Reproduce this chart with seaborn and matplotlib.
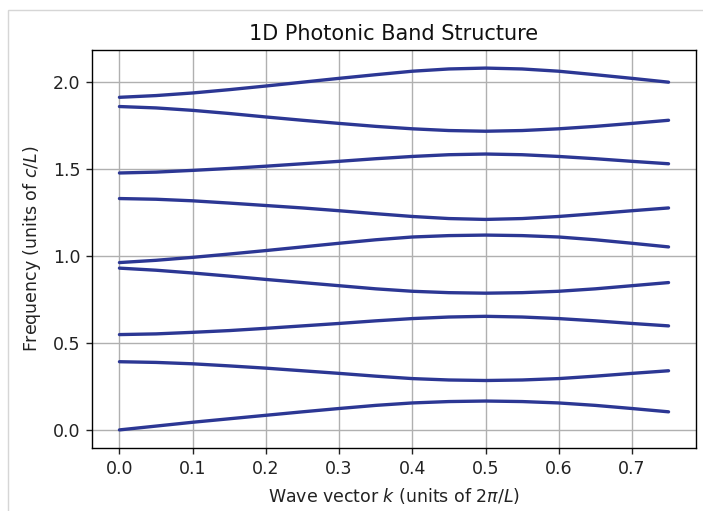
import numpy as np
import pandas as pd
import matplotlib
matplotlib.use("Agg")
import matplotlib.pyplot as plt
import seaborn as sns
from matplotlib.patches import Rectangle

# Wave vector samples (units of 2*pi/L)
k_values = [0.00, 0.05, 0.10, 0.15, 0.20, 0.25, 0.30, 0.35, 0.40, 0.45, 0.50,
            0.55, 0.60, 0.65, 0.70, 0.75]

# Frequencies (units of c/L), one list per band
band1 = [0.000, 0.022, 0.044, 0.064, 0.084, 0.104, 0.123, 0.141, 0.155, 0.163, 0.166,
         0.163, 0.155, 0.141, 0.123, 0.104]
band2 = [0.392, 0.388, 0.380, 0.368, 0.355, 0.340, 0.325, 0.309, 0.295, 0.287, 0.284,
         0.287, 0.295, 0.309, 0.325, 0.340]
band3 = [0.548, 0.552, 0.561, 0.571, 0.584, 0.598, 0.612, 0.627, 0.640, 0.649, 0.653,
         0.649, 0.640, 0.627, 0.612, 0.598]
band4 = [0.930, 0.918, 0.902, 0.884, 0.865, 0.847, 0.829, 0.811, 0.797, 0.789, 0.786,
         0.789, 0.797, 0.811, 0.829, 0.847]
band5 = [0.962, 0.975, 0.992, 1.011, 1.031, 1.052, 1.073, 1.093, 1.109, 1.117, 1.120,
         1.117, 1.109, 1.093, 1.073, 1.052]
band6 = [1.330, 1.326, 1.317, 1.304, 1.290, 1.276, 1.260, 1.243, 1.227, 1.215, 1.210,
         1.215, 1.227, 1.243, 1.260, 1.276]
band7 = [1.477, 1.482, 1.492, 1.503, 1.516, 1.530, 1.544, 1.559, 1.572, 1.582, 1.586,
         1.582, 1.572, 1.559, 1.544, 1.530]
band8 = [1.859, 1.851, 1.837, 1.819, 1.799, 1.780, 1.762, 1.745, 1.731, 1.721, 1.717,
         1.721, 1.731, 1.745, 1.762, 1.780]
band9 = [1.912, 1.922, 1.937, 1.956, 1.977, 1.999, 2.021, 2.042, 2.062, 2.075, 2.080,
         2.075, 2.062, 2.042, 2.021, 1.999]

bands = [band1, band2, band3, band4, band5, band6, band7, band8, band9]

x_ticks = [0.0, 0.1, 0.2, 0.3, 0.4, 0.5, 0.6, 0.7]
y_ticks = [0.0, 0.5, 1.0, 1.5, 2.0]

rows = []
for i, b in enumerate(bands):
    for kv, fv in zip(k_values, b):
        rows.append({"k": kv, "freq": fv, "band": i})
df = pd.DataFrame(rows)

sns.set_style("white")
plt.rcParams["font.family"] = ["DejaVu Sans"]

fig = plt.figure(figsize=(7.03, 5.11), dpi=100)
ax = fig.add_axes([92 / 703, 1 - 448 / 511, (696 - 92) / 703, (448 - 50) / 511])

sns.lineplot(data=df, x="k", y="freq", units="band", estimator=None,
             color="#2c3794", linewidth=2.4, ax=ax, legend=False)

ax.set_xticks(x_ticks)
ax.set_yticks(y_ticks)
ax.grid(True, color="#b0b0b0", linewidth=1.0)
ax.set_axisbelow(True)
for s in ax.spines.values():
    s.set_color("black")
    s.set_linewidth(1.0)
ax.tick_params(axis="both", which="both", direction="out", length=4.5, width=1.0,
               labelsize=12.5, colors="#222222", bottom=True, left=True, pad=4)
ax.set_xlabel(r"Wave vector $k$ (units of $2\pi/L$)", fontsize=12.5, color="#222222",
              labelpad=6)
ax.set_ylabel(r"Frequency (units of $c/L$)", fontsize=12.5, color="#222222",
              labelpad=7)
ax.set_title("1D Photonic Band Structure", fontsize=15, color="#111111", pad=7)

# faint screenshot frame at left/top
fig.patches.append(Rectangle((8 / 703, -1), 2, 1 + (1 - 10 / 511), transform=fig.transFigure,
                             fill=False, edgecolor="#d6d6d6", linewidth=1.0))

fig.savefig("out.png", dpi=100)
